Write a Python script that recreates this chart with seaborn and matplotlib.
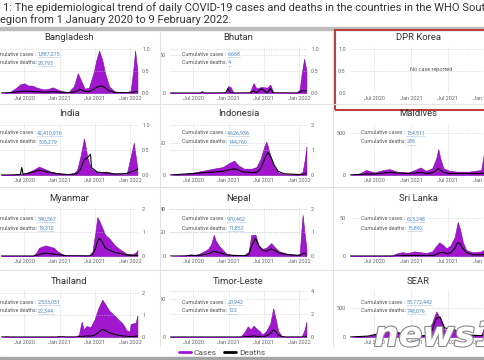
import numpy as np
import pandas as pd

import matplotlib
matplotlib.use("Agg")
import matplotlib.pyplot as plt
import matplotlib.dates as mdates
import matplotlib.patheffects as pe
from matplotlib.lines import Line2D
from matplotlib.patches import Rectangle

import seaborn as sns

# ---- data (cases on left axis units, deaths on right axis units)
bgd_dates = ["2020-03-01", "2020-04-15", "2020-05-20", "2020-06-10", "2020-07-01", "2020-07-20",
             "2020-08-10", "2020-09-05", "2020-10-10", "2020-11-01", "2020-11-25", "2020-12-15",
             "2021-01-15", "2021-02-15", "2021-03-15", "2021-04-05", "2021-04-20", "2021-05-10",
             "2021-06-01", "2021-06-25", "2021-07-10", "2021-07-25", "2021-08-10", "2021-08-25",
             "2021-09-15", "2021-10-15", "2021-12-15", "2022-01-05", "2022-01-20", "2022-01-28",
             "2022-02-09"]
bgd_cases = [0, 0.02, 0.12, 0.2, 0.22, 0.17, 0.17, 0.12, 0.08, 0.09, 0.13, 0.09, 0.04, 0.02, 0.15,
             0.45, 0.3, 0.1, 0.12, 0.45, 0.75, 0.97, 0.75, 0.45, 0.15, 0.03, 0.02, 0.05, 0.6, 0.97, 0.5]
bgd_deaths = [0, 0.005, 0.02, 0.035, 0.04, 0.04, 0.035, 0.03, 0.02, 0.02, 0.03, 0.025, 0.015, 0.01,
              0.02, 0.06, 0.08, 0.04, 0.03, 0.08, 0.13, 0.15, 0.16, 0.12, 0.05, 0.015, 0.005, 0.005,
              0.02, 0.03, 0.03]

btn_dates = ["2020-03-01", "2020-08-01", "2020-08-15", "2020-08-25", "2020-12-15", "2020-12-28",
             "2021-01-10", "2021-01-25", "2021-04-20", "2021-05-10", "2021-05-25", "2021-06-20",
             "2021-07-20", "2021-08-05", "2021-08-20", "2021-12-20", "2022-01-05", "2022-01-15",
             "2022-01-28", "2022-02-09"]
btn_cases = [0, 0, 3, 0, 1, 9, 8, 0.5, 1, 13, 6, 8, 7, 11, 1, 0.5, 5, 25, 45, 30]
btn_deaths = [0, 0, 0, 0, 0, 0.1, 0, 0, 0, 0.05, 0, 0.1, 0, 0.1, 0, 0, 0, 0.05, 0.05, 0.05]

ind_dates = ["2020-03-01", "2020-05-01", "2020-06-10", "2020-06-17", "2020-06-24", "2020-07-15",
             "2020-08-15", "2020-09-15", "2020-10-15", "2020-11-15", "2020-12-15", "2021-01-20",
             "2021-02-15", "2021-03-15", "2021-04-01", "2021-04-20", "2021-05-07", "2021-05-25",
             "2021-06-10", "2021-06-15", "2021-07-15", "2021-09-01", "2021-10-15", "2021-12-15",
             "2022-01-21", "2022-02-09"]
ind_cases = [0, 0.005, 0.02, 0.025, 0.025, 0.05, 0.1, 0.17, 0.12, 0.07, 0.04, 0.025, 0.02, 0.04,
             0.1, 0.4, 0.74, 0.35, 0.16, 0.12, 0.06, 0.07, 0.03, 0.012, 0.65, 0.12]
ind_deaths = [0, 0.002, 0.01, 0.15, 0.015, 0.03, 0.06, 0.1, 0.07, 0.05, 0.03, 0.015, 0.01, 0.015,
              0.03, 0.12, 0.3, 0.35, 0.42, 0.15, 0.06, 0.04, 0.02, 0.03, 0.08, 0.12]

idn_dates = ["2020-03-01", "2020-05-01", "2020-07-01", "2020-09-01", "2020-10-15", "2020-12-01",
             "2021-01-10", "2021-01-30", "2021-02-20", "2021-03-20", "2021-05-01", "2021-05-25",
             "2021-06-15", "2021-07-05", "2021-07-15", "2021-07-25", "2021-08-10", "2021-08-25",
             "2021-09-15", "2021-10-15", "2021-12-31", "2022-01-20", "2022-02-01", "2022-02-09"]
idn_cases = [0, 0.5, 1.5, 3, 4, 5, 8, 9, 6, 4, 4, 5, 10, 18, 21, 17, 10, 5, 1.5, 0.5, 0.3, 2, 10, 18]
idn_deaths = [0, 0.03, 0.06, 0.1, 0.12, 0.15, 0.22, 0.25, 0.2, 0.12, 0.1, 0.1, 0.25, 0.6, 0.8, 0.9,
              0.7, 0.4, 0.15, 0.05, 0.02, 0.02, 0.05, 0.08]

mdv_dates = ["2020-03-01", "2020-04-20", "2020-05-20", "2020-07-01", "2020-08-15", "2020-09-15",
             "2020-10-20", "2020-12-15", "2021-01-20", "2021-02-15", "2021-03-15", "2021-04-15",
             "2021-05-05", "2021-05-15", "2021-05-25", "2021-06-10", "2021-07-10", "2021-08-15",
             "2021-10-15", "2021-12-15", "2022-01-01", "2022-01-20", "2022-02-09"]
mdv_cases = [0, 20, 60, 30, 60, 70, 40, 30, 60, 90, 50, 80, 200, 310, 200, 80, 50, 40, 40, 60,
             300, 900, 300]
mdv_deaths = [0, 0.1, 0.2, 0.2, 0.4, 0.5, 0.4, 0.3, 0.4, 0.5, 0.3, 0.4, 0.9, 1.3, 1.0, 0.5, 0.3,
              0.3, 0.3, 0.3, 0.4, 0.6, 0.4]

mmr_dates = ["2020-03-01", "2020-08-15", "2020-09-01", "2020-09-15", "2020-10-01", "2020-10-20",
             "2020-11-10", "2020-12-01", "2020-12-20", "2021-01-10", "2021-01-31", "2021-06-01",
             "2021-06-20", "2021-07-05", "2021-07-15", "2021-07-25", "2021-08-10", "2021-08-25",
             "2021-09-15", "2021-10-15", "2021-11-15", "2021-12-15", "2022-01-15", "2022-02-01",
             "2022-02-09"]
mmr_cases = [0, 0.01, 0.15, 0.35, 0.4, 0.45, 0.4, 0.35, 0.2, 0.1, 0.03, 0.02, 0.2, 1.0, 1.65, 1.5,
             1.2, 0.9, 0.75, 0.45, 0.25, 0.1, 0.08, 0.15, 0.25]
mmr_deaths = [0, 0, 0.02, 0.06, 0.1, 0.12, 0.1, 0.08, 0.06, 0.04, 0.01, 0.005, 0.05, 0.3, 0.6,
              0.75, 0.6, 0.35, 0.25, 0.15, 0.1, 0.04, 0.02, 0.02, 0.03]

npl_dates = ["2020-03-01", "2020-05-20", "2020-06-15", "2020-07-10", "2020-08-01", "2020-08-25",
             "2020-09-15", "2020-10-01", "2020-10-15", "2020-10-25", "2020-11-10", "2020-12-01",
             "2020-12-20", "2021-01-15", "2021-03-20", "2021-04-15", "2021-04-28", "2021-05-20",
             "2021-06-05", "2021-06-25", "2021-07-15", "2021-08-10", "2021-08-25", "2021-09-20",
             "2021-11-01", "2021-12-20", "2022-01-05", "2022-01-20", "2022-01-30", "2022-02-09"]
npl_cases = [0, 0.5, 1.5, 1, 2, 4, 6, 10, 18, 13, 9, 5, 2, 1, 0.5, 4, 18, 18, 9, 6, 7, 11, 8, 4, 2,
             1, 2, 35, 20, 6]
npl_deaths = [0, 0, 0.02, 0.02, 0.03, 0.06, 0.1, 0.15, 0.2, 0.18, 0.15, 0.1, 0.05, 0.03, 0.01,
              0.05, 0.4, 0.75, 0.45, 0.25, 0.2, 0.3, 0.25, 0.12, 0.06, 0.03, 0.02, 0.1, 0.12, 0.08]

lka_dates = ["2020-03-01", "2020-09-30", "2020-10-15", "2020-11-15", "2020-12-15", "2021-01-15",
             "2021-02-15", "2021-03-15", "2021-04-15", "2021-05-01", "2021-05-20", "2021-06-10",
             "2021-06-25", "2021-07-15", "2021-08-05", "2021-08-20", "2021-09-01", "2021-09-15",
             "2021-10-01", "2021-11-01", "2021-12-15", "2022-01-20", "2022-02-09"]
lka_cases = [0, 0.5, 3, 5, 4, 6, 5, 4, 6, 12, 18, 14, 10, 14, 25, 45, 35, 18, 8, 5, 6, 12, 10]
lka_deaths = [0, 0, 0.01, 0.03, 0.04, 0.04, 0.03, 0.02, 0.03, 0.1, 0.25, 0.3, 0.2, 0.25, 0.6, 1.1,
              1.0, 0.6, 0.3, 0.1, 0.1, 0.1, 0.1]

tha_dates = ["2020-03-01", "2020-03-25", "2020-04-20", "2020-12-15", "2020-12-25", "2021-01-10",
             "2021-02-01", "2021-03-25", "2021-04-10", "2021-04-25", "2021-05-05", "2021-05-20",
             "2021-06-10", "2021-07-01", "2021-07-20", "2021-08-10", "2021-08-25", "2021-09-15",
             "2021-10-10", "2021-11-01", "2021-11-25", "2021-12-15", "2021-12-31", "2022-01-05",
             "2022-01-31", "2022-02-09"]
tha_cases = [0, 0.03, 0.01, 0.01, 0.06, 0.05, 0.02, 0.02, 0.1, 0.7, 0.35, 0.5, 0.45, 0.8, 1.3, 1.7,
             1.5, 1.2, 1.0, 0.8, 0.6, 0.3, 0.25, 0.6, 0.65, 1.0]
tha_deaths = [0, 0, 0, 0, 0, 0, 0, 0, 0.005, 0.02, 0.03, 0.05, 0.04, 0.08, 0.2, 0.35, 0.3, 0.2,
              0.13, 0.08, 0.05, 0.03, 0.02, 0.02, 0.03, 0.05]

tls_dates = ["2020-03-01", "2021-03-01", "2021-03-20", "2021-04-10", "2021-04-25", "2021-05-10",
             "2021-05-25", "2021-06-10", "2021-06-25", "2021-07-15", "2021-08-05", "2021-08-20",
             "2021-09-01", "2021-09-15", "2021-10-01", "2021-10-20", "2022-01-15", "2022-01-31",
             "2022-02-09"]
tls_cases = [0, 0.3, 5, 14, 10, 15, 11, 8, 3, 8, 18, 38, 25, 8, 2, 0.5, 0.5, 10, 20]
tls_deaths = [0, 0, 0, 0.05, 0.05, 0.1, 0.05, 0.05, 0, 0.1, 0.3, 0.6, 0.5, 0.2, 0.05, 0, 0, 0, 0.05]

sear_dates = ["2020-03-01", "2020-06-01", "2020-08-01", "2020-09-15", "2020-10-15", "2020-12-01",
              "2021-01-15", "2021-02-15", "2021-03-15", "2021-04-15", "2021-05-05", "2021-05-25",
              "2021-06-15", "2021-07-15", "2021-08-01", "2021-09-01", "2021-10-15", "2021-12-15",
              "2022-01-20", "2022-02-09"]
sear_cases = [0, 15, 70, 110, 85, 50, 30, 25, 45, 250, 440, 320, 130, 110, 110, 80, 40, 25, 380, 150]
sear_deaths = [0, 0.2, 0.8, 1.2, 1.0, 0.6, 0.3, 0.2, 0.3, 1.5, 4, 4.2, 2, 1.5, 1.6, 0.8, 0.4, 0.3,
               0.8, 1.0]

countries = ["Bangladesh", "Bhutan", "DPR Korea", "India", "Indonesia", "Maldives",
             "Myanmar", "Nepal", "Sri Lanka", "Thailand", "Timor-Leste", "SEAR"]
cum_cases = ["1,887,275", "6,668", None, "42,410,976", "4,626,936", "154,511",
             "540,567", "970,462", "623,248", "2,533,051", "20,942", "53,772,442"]
cum_deaths = ["28,793", "4", None, "505,279", "144,760", "286",
              "19,310", "11,852", "15,892", "22,344", "122", "748,076"]
series = [(bgd_dates, bgd_cases, bgd_deaths), (btn_dates, btn_cases, btn_deaths), None,
          (ind_dates, ind_cases, ind_deaths), (idn_dates, idn_cases, idn_deaths),
          (mdv_dates, mdv_cases, mdv_deaths), (mmr_dates, mmr_cases, mmr_deaths),
          (npl_dates, npl_cases, npl_deaths), (lka_dates, lka_cases, lka_deaths),
          (tha_dates, tha_cases, tha_deaths), (tls_dates, tls_cases, tls_deaths),
          (sear_dates, sear_cases, sear_deaths)]

# axis settings per panel: (left ylim top, left ticks, left labels, right ylim top, right ticks, right labels)
axis_setup = [
    (1.05, [], [], 1.05, [0, 0.5, 1.0], ["0.0", "0.5", "1.0"]),
    (60.5, [0, 50], ["0", "50"], 1.05, [0, 0.5, 1.0], ["0.0", "0.5", "1.0"]),
    (1.05, [0, 0.5, 1.0], ["0.0", "0.5", "1.0"], 1.05, [], []),
    (1.03, [], [], 1.03, [0, 0.5, 1.0], ["0.0", "0.5", "1.0"]),
    (32, [0, 20], ["0", "20"], 2.05, [0, 1, 2], ["0", "1", "2"]),
    (607, [0, 500], ["0", "500"], 10, [], []),
    (2.08, [], [], 2.08, [0, 1, 2], ["0", "1", "2"]),
    (41.7, [0, 20, 40], ["0", "20", "40"], 2.08, [0, 1, 2], ["0", "1", "2"]),
    (64.5, [0, 50], ["0", "50"], 4, [], []),
    (2.14, [], [], 2.14, [0, 1, 2], ["0", "1", "2"]),
    (62, [0, 50], ["0", "50"], 4.1, [0, 2, 4], ["0", "2", "4"]),
    (810, [0, 500], ["0", "500"], 10, [], []),
]

W, H = 485, 360
purple = "#a117d0"
grey_txt = "#666666"

sns.set_theme(style="white")
plt.rcParams["font.family"] = ["Roboto", "DejaVu Sans"]

fig = plt.figure(figsize=(W / 100, H / 100), dpi=100)
fig.patch.set_facecolor("white")


def fx(x):
    return x / W


def fy(y):
    return 1 - y / H


col_x = [1, 170, 350]
col_w = [137, 137, 143]
row_top = [47, 124, 207, 290]
row_bot = [93, 175, 256, 337]
title_y = [37, 114, 198, 281]
text_y = [(54, 63), (133, 142), (219, 228), (302, 311)]
text_x = [-8, 182, 361]

x_start = pd.Timestamp("2020-03-01")
x_end = pd.Timestamp("2022-02-12")
xticks = pd.to_datetime(["2020-07-01", "2021-01-01", "2021-07-01", "2022-01-01"])

renderer = fig.canvas.get_renderer()

for i, name in enumerate(countries):
    row, col = divmod(i, 3)
    x0 = col_x[col]
    ax_w = col_w[col]
    ax = fig.add_axes([fx(x0), fy(row_bot[row]), ax_w / W, (row_bot[row] - row_top[row]) / H])
    ax2 = ax.twinx()
    ax.set_facecolor("none")
    cyl, cticks, clabels, dyl, dticks, dlabels = axis_setup[i]

    if series[i] is not None:
        dates, cases, deaths = series[i]
        df = pd.DataFrame({"date": pd.to_datetime(dates), "cases": cases, "deaths": deaths})
        ax.fill_between(df["date"], df["cases"], color=purple, lw=0.4, edgecolor="#7d0aa6", zorder=2)
        sns.lineplot(data=df, x="date", y="deaths", ax=ax2, color="black", lw=0.8, zorder=3)
    else:
        ax.text(0.57, 0.5, "No case reported", transform=ax.transAxes, ha="center", va="center",
                fontsize=4, color="#555555")

    for a, top, ticks, labels in [(ax, cyl, cticks, clabels), (ax2, dyl, dticks, dlabels)]:
        a.set_ylim(0, top)
        a.set_yticks(ticks)
        a.set_yticklabels(labels)
        a.set_xlim(x_start, x_end)
        a.set_xlabel("")
        a.set_ylabel("")
        for s in a.spines.values():
            s.set_visible(False)
        a.tick_params(length=0, labelsize=4, labelcolor=grey_txt, pad=3)
        a.grid(axis="y", color="#c4c4c4", lw=0.5, ls=(0, (1, 1.5)))
    ax.set_xticks(xticks)
    ax.xaxis.set_major_formatter(mdates.DateFormatter("%b %Y"))
    ax.grid(axis="x", color="#ececec", lw=0.6, ls="-")
    ax.tick_params(axis="x", pad=2)

    fig.text(fx(x0 + 137 / 2), fy(title_y[row]), name, ha="center", va="center",
             fontsize=6.8, color="#333333")

    if cum_cases[i] is not None:
        for lab, val, yy in [("Cumulative cases : ", cum_cases[i], text_y[row][0]),
                             ("Cumulative deaths: ", cum_deaths[i], text_y[row][1])]:
            t = fig.text(fx(text_x[col]), fy(yy), lab, ha="left", va="center", fontsize=3.8,
                         color="#555555",
                         bbox=dict(facecolor="white", edgecolor="none", pad=0.4))
            bb = t.get_window_extent(renderer=renderer)
            tv = fig.text(bb.x1 / W, fy(yy), val, ha="left", va="center", fontsize=3.8,
                          color="#4a86c0",
                          bbox=dict(facecolor="white", edgecolor="none", pad=0.4))
            bv = tv.get_window_extent(renderer=renderer)
            fig.add_artist(Line2D([bv.x0 / W, bv.x1 / W], [fy(yy + 3.2)] * 2, color="#7aa6d0",
                                  lw=0.4, ls=(0, (1, 0.6)), transform=fig.transFigure))

# panel separators
for xs in [160, 333]:
    fig.add_artist(Line2D([fx(xs)] * 2, [fy(31), fy(346)], color="#e3e3e3", lw=0.8,
                          transform=fig.transFigure))
for ys in [104, 187, 270]:
    fig.add_artist(Line2D([0, 1], [fy(ys)] * 2, color="#e3e3e3", lw=0.8,
                          transform=fig.transFigure))

# title
fig.text(fx(3), fy(8), "1: The epidemiological trend of daily COVID-19 cases and deaths in the countries "
         "in the WHO South-East Asia", ha="left", va="center", fontsize=8.0, color="#333333")
fig.text(fx(0), fy(20), "egion from 1 January 2020 to 9 February 2022.", ha="left", va="center",
         fontsize=8.0, color="#333333")
fig.add_artist(Rectangle((0, fy(29.5)), 1, 2.5 / H, color="#bdbdbd", transform=fig.transFigure))

# DPR Korea highlight box
fig.add_artist(Rectangle((fx(335), fy(110)), fx(160), 80 / H, fill=False, edgecolor="#b8403e",
                         lw=1.5, transform=fig.transFigure))

# bottom band
fig.add_artist(Rectangle((0, 0), 1, 3.5 / H, color="#a5a5a5", transform=fig.transFigure))

# legend
handles = [Line2D([0], [0], color=purple, lw=2, label="Cases"),
           Line2D([0], [0], color="black", lw=2, label="Deaths")]
fig.legend(handles=handles, loc="center", bbox_to_anchor=(fx(222), fy(353)), ncol=2,
           frameon=False, fontsize=6, handlelength=1.5, columnspacing=0.8, handletextpad=0.3,
           labelcolor="#555555")

# watermark
fig.text(fx(374), fy(346), "news1", ha="left", va="baseline", fontsize=25, style="italic",
         weight="bold", color="white", family=["DejaVu Sans"],
         path_effects=[pe.withStroke(linewidth=1.6, foreground="#8a8a8a")])

fig.savefig("out.png", dpi=100)
